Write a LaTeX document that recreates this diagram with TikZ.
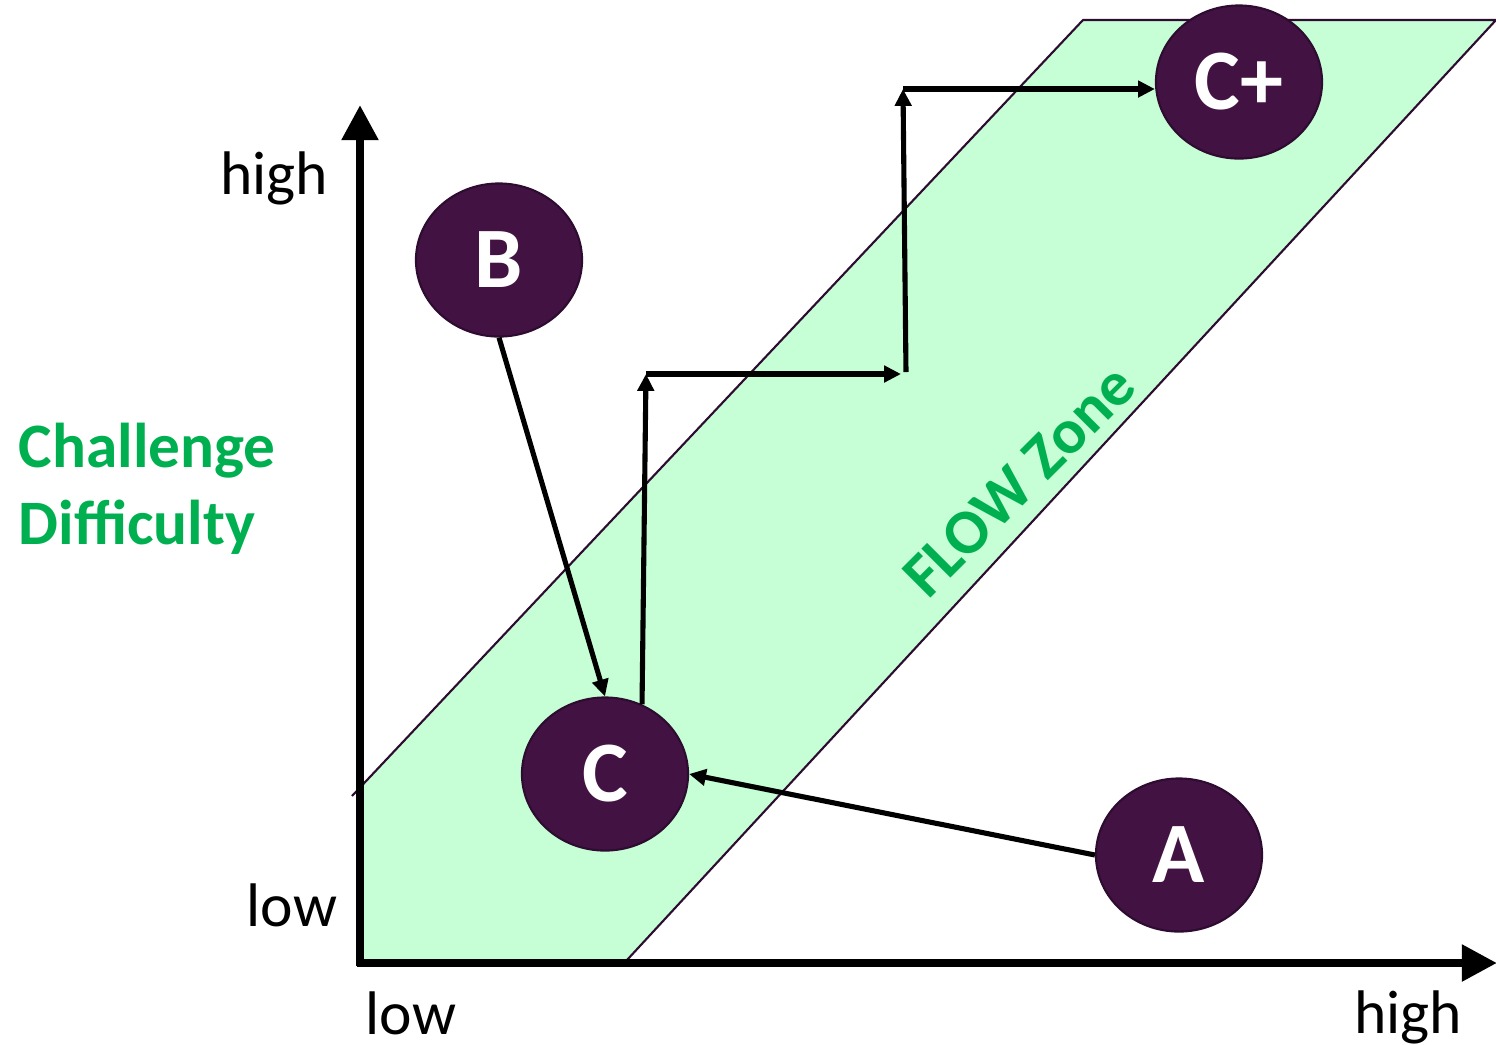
\documentclass[tikz,border=0pt]{standalone}
\usepackage{fontspec}
\setmainfont{Carlito}
\usetikzlibrary{arrows.meta, shapes.geometric, calc}
\definecolor{flowfill}{HTML}{C6FFD6}
\definecolor{flowgreen}{HTML}{00B050}
\definecolor{plum}{HTML}{421242}
\definecolor{plumline}{HTML}{2E0B30}
\begin{document}
\begin{tikzpicture}[x=0.01cm, y=-0.01cm,
    grade/.style={ellipse, fill=plum, draw=plumline, line width=0.6pt,
      minimum width=1.66cm, minimum height=1.53cm, text=white,
      font=\fontsize{24.5}{28}\selectfont\bfseries},
    axislabel/.style={font=\fontsize{17.5}{20}\selectfont, inner sep=0pt},
    axisline/.style={line width=2.3pt, -{Triangle[length=10pt, width=10pt]}},
    move/.style={line width=1.45pt, -{Triangle[length=4.8pt, width=4.6pt]}}]
                \useasboundingbox (0,0) rectangle (1496,1044);
                \fill[flowfill] (360,787) -- (1083,20) -- (1496,20) -- (627,960) -- (360,960) -- cycle;
                \draw[plumline, line width=0.6pt] (352,796) -- (1083,20) -- (1496,20) -- (627,960);
                \coordinate (O) at (360,963);
                \coordinate (Ytop) at (360,105);
                \coordinate (Xend) at (1497,963);
                \draw[axisline] ($(O)+(0,3)$) -- (Ytop);
                \draw[axisline] ($(O)+(-3,0)$) -- (Xend);
                \node[grade] (B) at (499,260) {B};
                \node[grade] (C) at (605,774) {C};
                \node[grade] (A) at (1179,855) {A};
                \node[grade] (Cplus) at (1239,82) {C+};
                \coordinate (s1) at (646,374);
                \coordinate (s2) at (901,374);
                \coordinate (s3) at (903,89);
                \draw[move] (B.south) -- (C.north);
                \draw[move] (A.west) -- (C.east);
                \draw[move] (C.62) -- (s1);
                \draw[move] (s1) -- (s2);
                \draw[move] ([shift={(5,-2)}]s2) -- (s3);
                \draw[move] (s3) -- (s3 -| Cplus.west);
                \node[axislabel] (yhigh) at (274,178) {high};
                \node[axislabel] (ylow) at (292,905) {low};
                \node[axislabel] (xlow) at (411,1013) {low};
                \node[axislabel] (xhigh) at (1408,1017) {high};
                \node[text=flowgreen, font=\fontsize{18}{22}\selectfont\bfseries, align=left, anchor=north west, inner sep=0pt] (ylabel) at (18,422) {Challenge\\Difficulty};
                \node[text=flowgreen, font=\fontsize{18}{22}\selectfont\bfseries, rotate=45] (zone) at (1019,481) {FLOW Zone};
            \end{tikzpicture}
\end{document}
